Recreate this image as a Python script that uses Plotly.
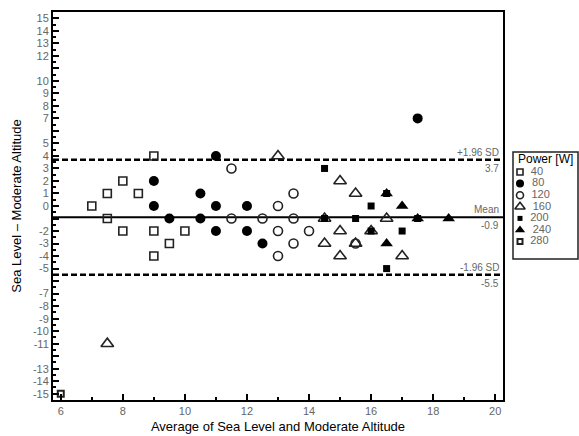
import plotly.graph_objects as go

# ---- data ----
p40_x = [9, 8, 7.5, 8.5, 7, 7.5, 8, 9, 10, 9.5, 9]
p40_y = [4, 2, 1, 1, 0, -1, -2, -2, -2, -3, -4]
p80_x = [11, 9, 10.5, 9, 11, 12, 9.5, 10.5, 11, 12, 12.5, 17.5]
p80_y = [4, 2, 1, 0, 0, 0, -1, -1, -2, -2, -3, 7]
p120_x = [11.5, 13.5, 13, 11.5, 12.5, 13.5, 13, 14, 13.5, 15.5, 13]
p120_y = [3, 1, 0, -1, -1, -1, -2, -2, -3, -3, -4]
p160_x = [13, 15, 15.5, 14.5, 16.5, 15, 16, 14.5, 15.5, 15, 17, 7.5]
p160_y = [4, 2, 1, -1, -1, -2, -2, -3, -3, -4, -4, -11]
p200_x = [14.5, 16.5, 16, 14.5, 15.5, 17.5, 16, 17, 16.5]
p200_y = [3, 1, 0, -1, -1, -1, -2, -2, -5]
p240_x = [16.5, 17, 17.5, 18.5, 16.5]
p240_y = [1, 0, -1, -1, -3]
p280_x = [6]
p280_y = [-15]

power_labels = ["40", "80", "120", "160", "200", "240", "280"]
mean_diff = -0.9
upper_loa = 3.7
lower_loa = -5.5
y_tick_vals = list(range(-15, 16))
y_hidden = [11, 6, -1, -6, -12]
x_tick_vals = [6, 8, 10, 12, 14, 16, 18, 20]

# ---- styles ----
styles = [
    dict(symbol="square-open", size=8, color="#222", line=dict(width=1.6, color="#222")),
    dict(symbol="circle", size=10, color="#000"),
    dict(symbol="circle-open", size=9, color="#222", line=dict(width=1.6, color="#222")),
    dict(symbol="triangle-up-open", size=11, color="#222", line=dict(width=1.6, color="#222")),
    dict(symbol="square", size=7, color="#000"),
    dict(symbol="triangle-up", size=11, color="#000"),
    dict(symbol="square-open", size=6, color="#222", line=dict(width=2, color="#222")),
]
series = [(p40_x, p40_y), (p80_x, p80_y), (p120_x, p120_y), (p160_x, p160_y),
          (p200_x, p200_y), (p240_x, p240_y), (p280_x, p280_y)]

fig = go.Figure()

XR = [5.75, 20.25]
# reference lines
fig.add_trace(go.Scatter(x=XR, y=[mean_diff, mean_diff], mode="lines",
                         line=dict(color="black", width=2), showlegend=False, hoverinfo="skip"))
for v in (upper_loa, lower_loa):
    fig.add_trace(go.Scatter(x=XR, y=[v, v], mode="lines",
                             line=dict(color="black", width=2.5, dash="6px,3px"),
                             showlegend=False, hoverinfo="skip"))

for (xs, ys), st, lab in zip(series, styles, power_labels):
    fig.add_trace(go.Scatter(x=xs, y=ys, mode="markers", marker=st, name=lab, showlegend=False))

# ---- custom legend on its own axes (pixel-like units) ----
leg_top, leg_bot = 152, 259
n = len(power_labels)
item_y = [172 + 11.6 * i for i in range(n)]
for st, lab, yy in zip(styles, power_labels, item_y):
    st2 = dict(st)
    st2["size"] = max(st["size"] - 2, 5)
    fig.add_trace(go.Scatter(x=[520], y=[yy], mode="markers+text", marker=st2,
                             text=["  " + lab], textposition="middle right",
                             textfont=dict(size=11, color="#666", family="Liberation Sans, Arial"),
                             xaxis="x2", yaxis="y2", showlegend=False, hoverinfo="skip",
                             cliponaxis=False))

W, H = 579, 436
ml, mr, mt, mb = 53, 0, 12, 36
pw = W - ml - mr
ph = H - mt - mb
main_right = 503

def xpaper(px):
    return (px - ml) / pw

def ypaper(py):
    return (H - mb - py) / ph

ticktext = ["" if v in y_hidden else str(v) for v in y_tick_vals]
tickfont = dict(size=11, color="#666", family="Liberation Sans, Arial")

fig.update_layout(
    width=W, height=H,
    margin=dict(l=ml, r=mr, t=mt, b=mb, autoexpand=False),
    paper_bgcolor="white", plot_bgcolor="white",
    font=dict(family="Liberation Sans, Arial", color="black"),
    xaxis=dict(domain=[0, xpaper(main_right)], range=XR, tickvals=x_tick_vals,
               ticks="inside", ticklen=6, tickwidth=1.5, tickcolor="black",
               minor=dict(dtick=1, tick0=0, ticks="inside", ticklen=3, tickwidth=1.5, tickcolor="black"),
               showline=True, linecolor="black", linewidth=2, mirror=True,
               showgrid=False, zeroline=False, tickfont=tickfont,
               title=dict(text="Average of Sea Level and Moderate Altitude",
                          font=dict(size=13, color="black"), standoff=6)),
    yaxis=dict(range=[-15.5, 15.5], tickvals=y_tick_vals, ticktext=ticktext,
               ticks="inside", ticklen=6, tickwidth=1.5, tickcolor="black",
               minor=dict(dtick=0.5, tick0=0, ticks="inside", ticklen=3, tickwidth=1.5, tickcolor="black"),
               showline=True, linecolor="black", linewidth=2, mirror=True,
               showgrid=False, zeroline=False, tickfont=tickfont,
               title=dict(text="Sea Level – Moderate Altitude",
                          font=dict(size=13, color="black"), standoff=8)),
    xaxis2=dict(domain=[xpaper(513), xpaper(578)], range=[513, 578], visible=False,
                anchor="y2"),
    yaxis2=dict(domain=[ypaper(leg_bot), ypaper(leg_top)], range=[leg_bot, leg_top],
                visible=False, anchor="x2"),
    showlegend=False,
)

fig.add_shape(type="rect", xref="x2 domain", yref="y2 domain", x0=0, x1=1, y0=0, y1=1,
              line=dict(color="#222", width=1.5), fillcolor="rgba(0,0,0,0)")
fig.add_annotation(xref="x2", yref="y2", x=516, y=159, text="Power [W]", showarrow=False,
                   xanchor="left", yanchor="middle", font=dict(size=12, color="black"))

ann_font = dict(size=10, color="#666", family="Liberation Sans, Arial")
for v, top_txt in ((upper_loa, "+1.96 SD"), (mean_diff, "Mean"), (lower_loa, "-1.96 SD")):
    fig.add_annotation(x=20.2, y=v, text=top_txt, showarrow=False, xanchor="right",
                       yanchor="bottom", font=ann_font, yshift=0)
    fig.add_annotation(x=20.2, y=v, text=f"{v:.1f}", showarrow=False, xanchor="right",
                       yanchor="top", font=ann_font, yshift=-1)

fig.write_html("out.html", config={"displayModeBar": False},
               post_script="document.body.style.margin='0px';document.body.style.overflow='hidden';")
